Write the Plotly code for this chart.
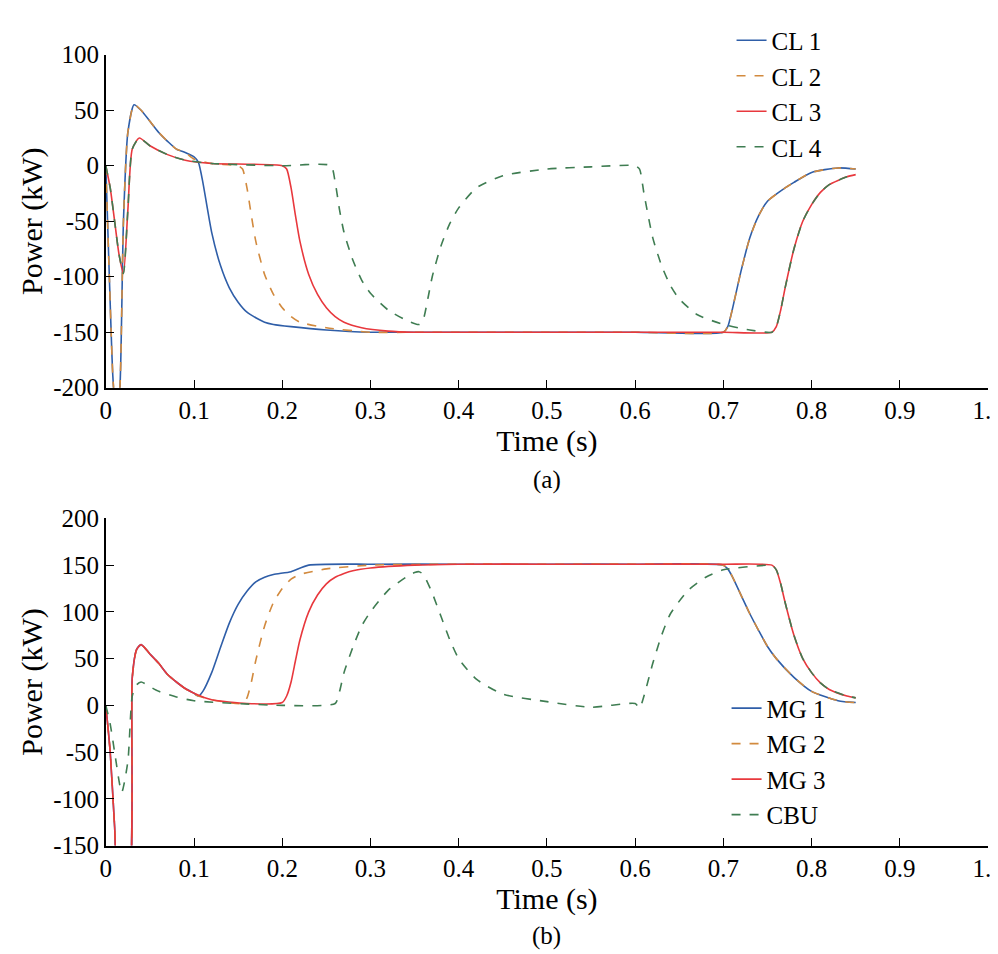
import plotly.graph_objects as go
from plotly.subplots import make_subplots

# panel (a): control loads
t_cl1 = [0, 0.004, 0.008, 0.012, 0.016, 0.02, 0.025, 0.032, 0.04, 0.05, 0.06, 0.07, 0.08, 0.09, 0.1, 0.105, 0.11, 0.115, 0.12, 0.13, 0.14, 0.15, 0.16, 0.17, 0.18, 0.19, 0.21, 0.25, 0.3, 0.35, 0.4, 0.5, 0.6, 0.7, 0.705, 0.71, 0.72, 0.73, 0.74, 0.75, 0.77, 0.78, 0.8, 0.83, 0.85]
p_cl1 = [0, -100, -190, -230, -200, -50, 30, 55, 50, 40, 30, 22, 15, 12, 8, 3, -15, -38, -60, -90, -110, -123, -132, -137, -141, -143, -145, -148, -150, -150, -150, -150, -150, -150, -145, -130, -95, -65, -45, -32, -20, -15, -6, -2, -3]
t_cl2 = [0, 0.004, 0.008, 0.012, 0.016, 0.02, 0.025, 0.032, 0.04, 0.05, 0.06, 0.07, 0.08, 0.09, 0.1, 0.12, 0.15, 0.155, 0.16, 0.165, 0.17, 0.18, 0.19, 0.2, 0.21, 0.22, 0.25, 0.3, 0.35, 0.4, 0.5, 0.6, 0.7, 0.705, 0.71, 0.72, 0.73, 0.74, 0.75, 0.77, 0.78, 0.8, 0.83, 0.85]
p_cl2 = [0, -100, -190, -230, -200, -50, 30, 55, 50, 40, 30, 22, 15, 12, 6, 2, 0, -3, -20, -45, -68, -98, -116, -128, -136, -141, -146, -150, -150, -150, -150, -150, -150, -145, -130, -95, -65, -45, -32, -20, -15, -6, -2, -3]
t_cl3 = [0, 0.005, 0.01, 0.015, 0.02, 0.025, 0.03, 0.038, 0.05, 0.07, 0.09, 0.12, 0.2, 0.205, 0.21, 0.215, 0.22, 0.23, 0.24, 0.25, 0.26, 0.27, 0.29, 0.32, 0.35, 0.4, 0.5, 0.6, 0.7, 0.755, 0.76, 0.765, 0.77, 0.78, 0.79, 0.8, 0.81, 0.82, 0.84, 0.85]
p_cl3 = [0, -20, -50, -80, -97, -40, 15, 25, 18, 10, 5, 2, 0, -3, -20, -45, -68, -98, -116, -128, -136, -141, -146, -149, -150, -150, -150, -150, -150, -150, -145, -130, -110, -75, -50, -35, -24, -17, -10, -8]
t_cl4 = [0, 0.005, 0.01, 0.015, 0.02, 0.025, 0.03, 0.038, 0.05, 0.07, 0.09, 0.12, 0.2, 0.255, 0.26, 0.265, 0.27, 0.28, 0.29, 0.3, 0.32, 0.34, 0.355, 0.36, 0.365, 0.37, 0.38, 0.39, 0.4, 0.42, 0.45, 0.5, 0.55, 0.6, 0.605, 0.61, 0.62, 0.63, 0.64, 0.65, 0.67, 0.7, 0.73, 0.755, 0.76, 0.765, 0.77, 0.78, 0.79, 0.8, 0.81, 0.82, 0.84, 0.85]
p_cl4 = [0, -20, -50, -80, -97, -40, 15, 25, 18, 10, 5, 2, 0, 0, -15, -40, -60, -85, -103, -115, -130, -139, -143, -138, -120, -100, -72, -52, -38, -20, -9, -3, -1, 0, -3, -25, -65, -90, -108, -120, -134, -143, -148, -150, -145, -130, -110, -75, -50, -35, -24, -17, -10, -8]

# panel (b): microgrids and CBU
t_mg1 = [0, 0.005, 0.01, 0.015, 0.025, 0.03, 0.035, 0.04, 0.05, 0.06, 0.07, 0.08, 0.09, 0.1, 0.105, 0.11, 0.12, 0.13, 0.14, 0.15, 0.16, 0.17, 0.18, 0.19, 0.21, 0.23, 0.3, 0.4, 0.5, 0.6, 0.7, 0.705, 0.71, 0.72, 0.73, 0.74, 0.75, 0.76, 0.78, 0.8, 0.83, 0.85]
p_mg1 = [0, -50, -130, -200, -200, 30, 60, 65, 55, 45, 33, 25, 18, 13, 10, 15, 35, 62, 88, 108, 122, 132, 137, 140, 143, 150, 151, 151, 151, 151, 150, 146, 138, 118, 98, 80, 63, 50, 30, 15, 5, 3]
t_mg2 = [0, 0.005, 0.01, 0.015, 0.025, 0.03, 0.035, 0.04, 0.05, 0.06, 0.07, 0.08, 0.09, 0.1, 0.12, 0.155, 0.16, 0.165, 0.17, 0.18, 0.19, 0.2, 0.21, 0.22, 0.25, 0.3, 0.4, 0.5, 0.6, 0.7, 0.705, 0.71, 0.72, 0.73, 0.74, 0.75, 0.76, 0.78, 0.8, 0.83, 0.85]
p_mg2 = [0, -50, -130, -200, -200, 30, 60, 65, 55, 45, 33, 25, 18, 12, 6, 2, 8, 25, 48, 85, 110, 125, 135, 140, 146, 150, 151, 151, 151, 150, 146, 138, 118, 98, 80, 63, 50, 30, 15, 5, 3]
t_mg3 = [0, 0.005, 0.01, 0.015, 0.025, 0.03, 0.035, 0.04, 0.05, 0.06, 0.07, 0.08, 0.09, 0.1, 0.12, 0.16, 0.2, 0.205, 0.21, 0.215, 0.22, 0.23, 0.24, 0.25, 0.26, 0.27, 0.28, 0.3, 0.35, 0.4, 0.5, 0.6, 0.7, 0.755, 0.76, 0.765, 0.77, 0.78, 0.79, 0.8, 0.81, 0.82, 0.84, 0.85]
p_mg3 = [0, -50, -130, -200, -200, 30, 60, 65, 55, 45, 33, 25, 18, 13, 6, 2, 3, 10, 25, 48, 70, 100, 118, 130, 137, 141, 144, 147, 150, 151, 151, 151, 151, 150, 145, 130, 110, 75, 50, 35, 24, 17, 10, 8]
t_cbu = [0, 0.005, 0.01, 0.018, 0.025, 0.03, 0.035, 0.04, 0.05, 0.06, 0.08, 0.1, 0.2, 0.26, 0.265, 0.27, 0.28, 0.29, 0.3, 0.32, 0.34, 0.35, 0.355, 0.36, 0.37, 0.38, 0.39, 0.4, 0.42, 0.45, 0.5, 0.55, 0.6, 0.605, 0.61, 0.62, 0.63, 0.64, 0.66, 0.68, 0.7, 0.75, 0.755, 0.76, 0.765, 0.77, 0.78, 0.79, 0.8, 0.81, 0.82, 0.84, 0.85]
p_cbu = [0, -20, -50, -93, -60, 10, 22, 25, 20, 15, 9, 5, 0, 2, 15, 35, 62, 85, 100, 123, 137, 142, 143, 140, 120, 95, 70, 50, 28, 12, 4, -2, 2, -3, 10, 45, 75, 98, 123, 137, 145, 150, 150, 145, 130, 110, 75, 50, 35, 24, 17, 10, 8]

BLUE = "#2f5ea8"
ORANGE = "#d28a3e"
RED = "#e8383d"
GREEN = "#3f7d52"

fig = make_subplots(rows=2, cols=1)

top = [("CL 1", t_cl1, p_cl1, BLUE, "solid"), ("CL 2", t_cl2, p_cl2, ORANGE, "dash"),
       ("CL 3", t_cl3, p_cl3, RED, "solid"), ("CL 4", t_cl4, p_cl4, GREEN, "dash")]
bot = [("MG 1", t_mg1, p_mg1, BLUE, "solid"), ("MG 2", t_mg2, p_mg2, ORANGE, "dash"),
       ("MG 3", t_mg3, p_mg3, RED, "solid"), ("CBU", t_cbu, p_cbu, GREEN, "dash")]

for name, t, p, c, d in top:
    fig.add_trace(go.Scatter(x=t, y=p, mode="lines", name=name, legend="legend",
                             line=dict(color=c, dash=d, width=1.6, shape="spline", smoothing=0.6)), row=1, col=1)
for name, t, p, c, d in bot:
    fig.add_trace(go.Scatter(x=t, y=p, mode="lines", name=name, legend="legend2",
                             line=dict(color=c, dash=d, width=1.6, shape="spline", smoothing=0.6)), row=2, col=1)

x_ticks = [0, 0.1, 0.2, 0.3, 0.4, 0.5, 0.6, 0.7, 0.8, 0.9, 1.0]
x_text = ["0", "0.1", "0.2", "0.3", "0.4", "0.5", "0.6", "0.7", "0.8", "0.9", "1.0"]
y1_ticks = [-200, -150, -100, -50, 0, 50, 100]
y2_ticks = [-150, -100, -50, 0, 50, 100, 150, 200]

ax = dict(showline=True, linecolor="black", linewidth=1.5, ticks="inside", ticklen=8,
          tickcolor="black", showgrid=False, zeroline=False, mirror=False, automargin=False,
          tickfont=dict(size=25, color="black"))
fig.update_xaxes(**ax, range=[0, 1.0], tickvals=x_ticks, ticktext=x_text)
fig.update_yaxes(**ax)

fig.update_layout(
    width=998, height=954, template="simple_white",
    font=dict(family="Liberation Serif", size=25, color="black"),
    margin=dict(l=0, r=0, t=0, b=0),
    xaxis=dict(domain=[0.098, 0.982], anchor="y",
               title=dict(text="Time (s)", standoff=0)),
    yaxis=dict(domain=[0.602, 0.951], range=[-200, 100], tickvals=y1_ticks,
               ticktext=[str(v) for v in y1_ticks],
               title=dict(text="Power (kW)", standoff=2)),
    xaxis2=dict(domain=[0.098, 0.982], anchor="y2",
                title=dict(text="Time (s)", standoff=0)),
    yaxis2=dict(domain=[0.122, 0.465], range=[-150, 200], tickvals=y2_ticks,
                ticktext=[str(v) for v in y2_ticks],
                title=dict(text="Power (kW)", standoff=2)),
    legend=dict(x=0.725, y=0.99, xanchor="left", yanchor="top", bgcolor="rgba(0,0,0,0)",
                font=dict(size=25), tracegroupgap=0),
    legend2=dict(x=0.72, y=0.29, xanchor="left", yanchor="top", bgcolor="rgba(0,0,0,0)",
                 font=dict(size=25)),
    annotations=[
        dict(text="(a)", x=0.54, y=0.505, xref="paper", yref="paper", showarrow=False, font=dict(size=25)),
        dict(text="(b)", x=0.54, y=0.01, xref="paper", yref="paper", showarrow=False, font=dict(size=25)),
    ],
)

fig.write_html("out.html")
